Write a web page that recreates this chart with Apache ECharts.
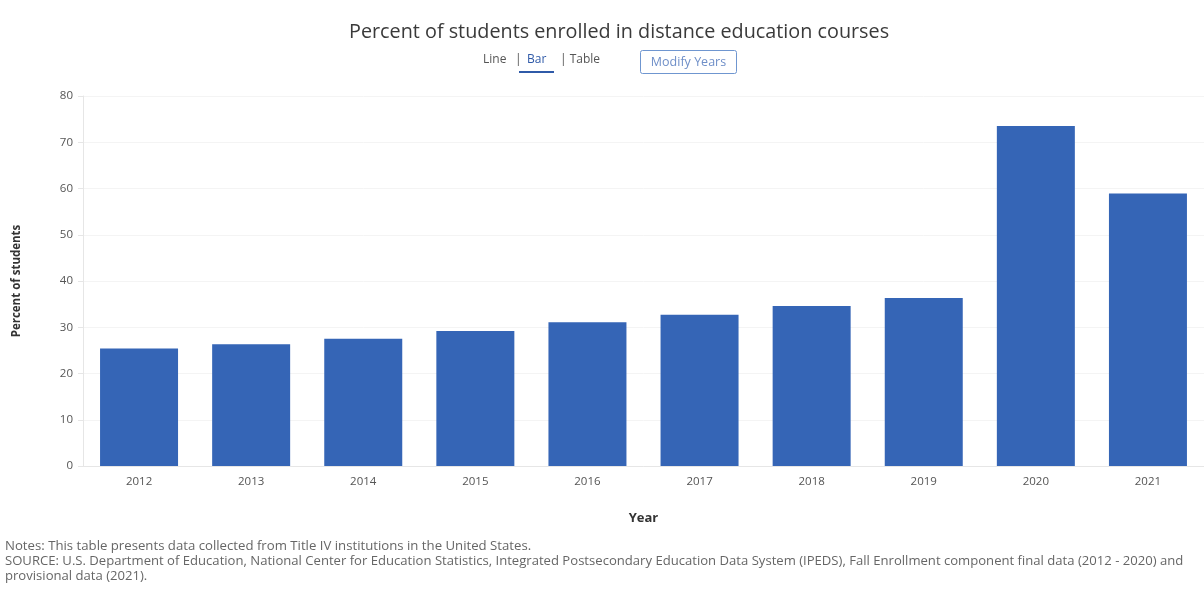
<!DOCTYPE html>
<html>
<head>
<meta charset="utf-8">
<title>Percent of students enrolled in distance education courses</title>
<script src="https://cdn.jsdelivr.net/npm/echarts@6/dist/echarts.min.js"></script>
<style>
  html, body { margin: 0; padding: 0; background: #ffffff; }
  #chart { width: 1204px; height: 593px; }
</style>
</head>
<body>
<div id="chart"></div>
<script>
// Fall enrollment years
const years = ['2012', '2013', '2014', '2015', '2016', '2017', '2018', '2019', '2020', '2021'];
// Percent of students enrolled in any distance education course
const percentDistance = [25.4, 26.3, 27.5, 29.2, 31.1, 32.7, 34.6, 36.3, 73.5, 58.9];
// Value axis ticks
const yTicks = [0, 10, 20, 30, 40, 50, 60, 70, 80];

const titleText = 'Percent of students enrolled in distance education courses';
const notesText = 'Notes: This table presents data collected from Title IV institutions in the United States.';
const sourceText = 'SOURCE: U.S. Department of Education, National Center for Education Statistics, Integrated Postsecondary Education Data System (IPEDS), Fall Enrollment component final data (2012 - 2020) and';
const sourceText2 = 'provisional data (2021).';

const FONT = '"Open Sans", "Noto Sans", sans-serif';
const chart = echarts.init(document.getElementById('chart'), null, { renderer: 'canvas' });

chart.setOption({
  backgroundColor: '#ffffff',
  animation: false,
  textStyle: { fontFamily: FONT },
  title: {
    text: titleText,
    left: 344,
    top: 17,
    textStyle: { fontSize: 19.8, fontWeight: 'normal', color: '#3a3a3a', fontFamily: FONT }
  },
  grid: { left: 83, top: 96, width: 1124, height: 370, containLabel: false },
  xAxis: {
    type: 'category',
    data: years,
    name: 'Year',
    nameLocation: 'middle',
    nameGap: 46,
    nameTextStyle: { fontSize: 13, fontWeight: 'bold', color: '#333333', fontFamily: FONT },
    axisLine: { show: true, lineStyle: { color: '#e6e6e6', width: 1 } },
    axisTick: { show: false },
    axisLabel: { fontSize: 11.5, color: '#555555', margin: 10, fontFamily: FONT }
  },
  yAxis: {
    type: 'value',
    min: yTicks[0],
    max: yTicks[yTicks.length - 1],
    interval: yTicks[1] - yTicks[0],
    name: 'Percent of students',
    nameLocation: 'middle',
    nameGap: 60,
    nameTextStyle: { fontSize: 11.5, fontWeight: 'bold', color: '#333333', fontFamily: FONT },
    axisLine: { show: true, lineStyle: { color: '#e6e6e6', width: 1 } },
    axisTick: { show: true, length: 5, lineStyle: { color: '#e6e6e6' } },
    axisLabel: { fontSize: 11.5, color: '#555555', margin: 10, fontFamily: FONT },
    splitLine: { show: true, lineStyle: { color: '#f4f4f4', width: 1 } }
  },
  series: [{
    type: 'bar',
    data: percentDistance,
    barWidth: 78,
    itemStyle: { color: '#3565b6' }
  }],
  graphic: [
    // view switcher: Line | Bar | Table
    { type: 'text', left: 483, top: 54, style: { text: 'Line', font: '12px ' + FONT, fill: '#555555' } },
    { type: 'text', left: 515, top: 54, style: { text: '|', font: '12px ' + FONT, fill: '#555555' } },
    { type: 'text', left: 527, top: 54, style: { text: 'Bar', font: '12px ' + FONT, fill: '#2f5aa8' } },
    { type: 'rect', shape: { x: 519, y: 71, width: 35, height: 2 }, style: { fill: '#2f5aa8' } },
    { type: 'text', left: 560, top: 54, style: { text: '| Table', font: '12px ' + FONT, fill: '#555555' } },
    // Modify Years button
    { type: 'rect', shape: { x: 640.5, y: 50.5, width: 96, height: 23, r: 2 }, style: { fill: '#ffffff', stroke: '#6f96d0', lineWidth: 1 } },
    { type: 'text', x: 688.5, y: 62.5, style: { text: 'Modify Years', font: '12.5px ' + FONT, fill: '#6f8fc8', align: 'center', verticalAlign: 'middle' } },
    // footnotes
    { type: 'text', left: 5, top: 540, style: { text: notesText, font: '13.2px ' + FONT, fill: '#666666' } },
    { type: 'text', left: 5, top: 555, style: { text: sourceText, font: '13.1px ' + FONT, fill: '#666666' } },
    { type: 'text', left: 5, top: 570, style: { text: sourceText2, font: '13.1px ' + FONT, fill: '#666666' } }
  ]
});
</script>
</body>
</html>
